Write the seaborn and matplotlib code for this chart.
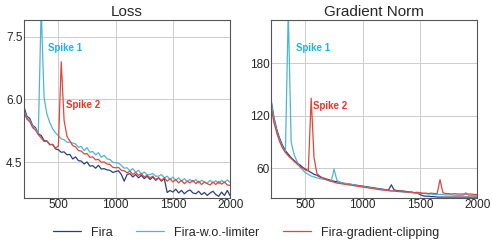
import numpy as np
import pandas as pd
import matplotlib
matplotlib.use("Agg")
import matplotlib.pyplot as plt
import seaborn as sns

# ---------------------------------------------------------------
# data (read off the reference, logged every 25 iterations)
# ---------------------------------------------------------------
steps = np.arange(200, 2001, 25)

loss_fira = [
    5.82, 5.60, 5.55, 5.38, 5.33, 5.18, 5.14, 5.02, 5.01, 4.92,
    4.93, 4.82, 4.80, 4.74, 4.75, 4.68, 4.69, 4.58, 4.63, 4.54,
    4.53, 4.46, 4.51, 4.41, 4.42, 4.36, 4.43, 4.34, 4.35, 4.32,
    4.31, 4.26, 4.28, 4.30, 4.21, 4.05, 4.21, 4.23, 4.15, 4.21,
    4.13, 4.19, 4.11, 4.17, 4.09, 4.15, 4.07, 4.13, 4.05, 4.11,
    3.78, 3.83, 3.79, 3.86, 3.77, 3.83, 3.75, 3.81, 3.84, 3.77,
    3.75, 3.81, 3.73, 3.78, 3.71, 3.77, 3.81, 3.73, 3.69, 3.79,
    3.71, 3.83, 3.70,
]
loss_nolimit = [
    5.75, 5.56, 5.50, 5.36, 5.30, 5.20, 8.20, 6.05, 5.65, 5.45,
    5.30, 5.20, 5.14, 5.06, 5.04, 4.98, 4.98, 4.96, 4.94, 4.86,
    4.88, 4.78, 4.85, 4.74, 4.76, 4.68, 4.73, 4.62, 4.67, 4.58,
    4.57, 4.50, 4.49, 4.48, 4.43, 4.36, 4.37, 4.30, 4.35, 4.26,
    4.31, 4.22, 4.27, 4.20, 4.21, 4.23, 4.17, 4.17, 4.21, 4.13,
    4.17, 4.09, 4.15, 4.07, 4.13, 4.05, 4.11, 4.04, 4.09, 4.03,
    4.09, 4.01, 4.07, 4.03, 4.00, 4.07, 4.01, 4.06, 3.99, 4.07,
    4.02, 4.08, 4.02,
]
loss_clip = [
    5.70, 5.53, 5.47, 5.33, 5.27, 5.16, 5.08, 5.00, 5.00, 4.93,
    4.92, 4.84, 4.89, 6.90, 5.50, 5.12, 5.01, 4.90, 4.87, 4.78,
    4.77, 4.70, 4.71, 4.62, 4.63, 4.56, 4.57, 4.50, 4.51, 4.46,
    4.45, 4.38, 4.37, 4.38, 4.31, 4.30, 4.25, 4.29, 4.21, 4.26,
    4.19, 4.23, 4.15, 4.19, 4.13, 4.17, 4.09, 4.13, 4.07, 4.13,
    4.05, 4.11, 4.03, 4.09, 4.01, 4.07, 3.99, 4.05, 4.01, 4.07,
    3.99, 4.05, 3.97, 4.03, 3.99, 3.96, 4.03, 3.97, 4.04, 3.98,
    4.03, 3.96, 3.95,
]

gn_fira = [
    138, 118, 104, 94, 86, 80, 76, 72, 69, 66,
    64, 61, 59, 57, 55, 53, 52, 50, 49, 48,
    47, 46, 45, 44.5, 44, 43, 42.5, 42, 41.5, 41,
    40.5, 40, 39.5, 39, 38.5, 38, 37.5, 37, 36.5, 36,
    35.5, 35, 41, 35, 34.5, 34, 34, 33.5, 33, 32.5,
    32, 31.5, 30, 28.5, 28, 28, 27.5, 27.5, 27, 27,
    27, 27, 27, 27, 27, 27, 27, 27, 27, 27,
    27, 27, 27,
]
gn_nolimit = [
    136, 116, 102, 92, 84, 78, 240, 90, 76, 68,
    62, 58, 55, 53, 51, 50, 49, 48, 47.5, 47,
    46, 45, 59, 46, 44, 43, 42.5, 42, 41.5, 41,
    40, 39.5, 39, 38.5, 38, 37.5, 37, 36.5, 36, 35.5,
    35, 34.5, 34, 34, 33.5, 33, 33, 32.5, 32.5, 32,
    32, 31.5, 31.5, 31, 31, 30.5, 30.5, 30, 30, 30,
    30, 29.5, 29.5, 29.5, 29, 29, 29, 29, 32, 29,
    29, 29, 28.5,
]
gn_clip = [
    130, 112, 100, 90, 83, 78, 74, 71, 68, 65,
    62, 60, 58, 57, 140, 72, 54, 51, 49, 47.5,
    46, 45, 44, 43, 42.5, 42, 41.5, 41, 40.5, 40,
    39.5, 39, 38.5, 38, 37.5, 37, 36.5, 36, 35.5, 35,
    35, 34.5, 34, 34, 33.5, 34, 33, 33, 32.5, 33,
    32, 32.5, 32, 31.5, 31.5, 31, 31.5, 31, 31, 47,
    32, 31, 31, 30.5, 31, 30.5, 30.5, 30.5, 30.5, 30.5,
    30.5, 30, 30,
]

names = ["Fira", "Fira-w.o.-limiter", "Fira-gradient-clipping"]
colors = ["#2b3f7f", "#4db5d8", "#e0463b"]

# ---------------------------------------------------------------
# figure
# ---------------------------------------------------------------
sns.set_theme(style="whitegrid")
plt.rcParams["font.family"] = ["Liberation Sans", "DejaVu Sans"]

fig = plt.figure(figsize=(4.92, 2.45), dpi=100)
ax1 = fig.add_axes([0.0488, 0.192, 0.419, 0.727])
ax2 = fig.add_axes([0.551, 0.192, 0.419, 0.727])

for ax, series in [(ax1, [loss_fira, loss_nolimit, loss_clip]),
                   (ax2, [gn_fira, gn_nolimit, gn_clip])]:
    for ys, name, c in zip(series, names, colors):
        sns.lineplot(x=steps, y=ys, ax=ax, color=c, lw=0.9, label=name, legend=False)
    ax.set_xlim(200, 2000)
    ax.set_xticks([500, 1000, 1500, 2000])
    ax.tick_params(labelsize=8.5, pad=1, length=0)
    ax.grid(color="#cccccc", lw=0.7)
    for s in ax.spines.values():
        s.set_edgecolor("#555555")
        s.set_linewidth(0.8)

ax1.set_ylim(3.65, 7.9)
ax1.set_yticks([4.5, 6.0, 7.5])
ax1.set_yticklabels(["4.5", "6.0", "7.5"])
ax1.set_title("Loss", fontsize=11, pad=3)
ax1.text(407, 7.22, "Spike 1", color="#1fb2ec", fontsize=7, fontweight="bold", va="center")
ax1.text(564, 5.86, "Spike 2", color="#e8352a", fontsize=7, fontweight="bold", va="center")

ax2.set_ylim(26, 229.5)
ax2.set_yticks([60, 120, 180])
ax2.set_title("Gradient Norm", fontsize=11, pad=3)
ax2.text(416, 197, "Spike 1", color="#1fb2ec", fontsize=7, fontweight="bold", va="center")
ax2.text(569, 131.4, "Spike 2", color="#e8352a", fontsize=7, fontweight="bold", va="center")

handles, labels = ax1.get_legend_handles_labels()
fig.legend(handles, labels, loc="center", bbox_to_anchor=(0.5, 0.05), ncol=3,
           frameon=False, fontsize=9, handlelength=2.25, handletextpad=0.8,
           columnspacing=1.85)

fig.savefig("out.png", dpi=100)
